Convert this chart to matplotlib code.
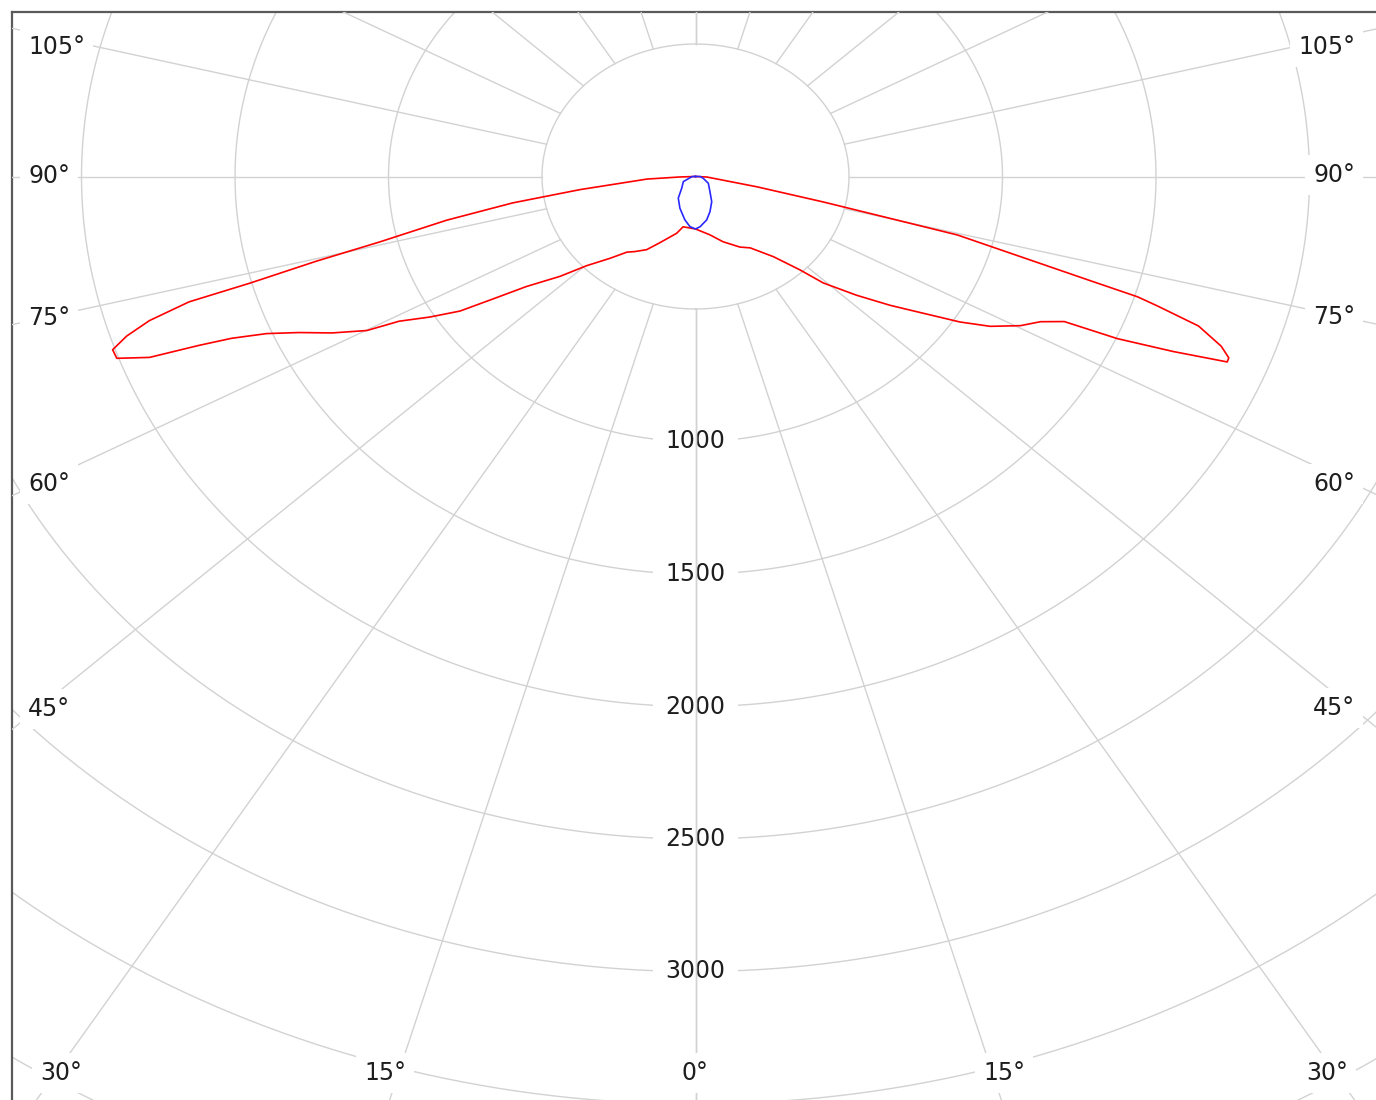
import numpy as np
import matplotlib.pyplot as plt

# luminous intensity (cd) against gamma angle (deg, 0 = straight down)
# red curve: C0 plane (right) / C180 plane (left)
c0_gamma = [0, 12, 20, 28.5, 33.5, 40, 44, 46, 49.5, 52.5, 54, 57.5, 59.5, 62, 64,
            65.5, 66, 67, 68, 68.5, 69.5, 71, 72, 72.5, 73, 74, 75.5, 76, 77, 79,
            87, 90, 180]
c0_cd = [198, 225, 262, 303, 323, 395, 490, 578, 690, 798, 854, 1022, 1114, 1199,
         1250, 1320, 1504, 1690, 1868, 1867, 1828, 1733, 1584, 1510, 1345, 1111,
         881, 654, 427, 204, 37, 0, 0]
c180_gamma = [0, 12, 16, 25, 30, 35, 38, 42, 46.5, 49.5, 53, 55, 56.5, 58.5, 60.5,
              61.5, 63.5, 65.5, 67, 68, 68.5, 69, 70, 71, 72, 73, 74, 74.5, 75.5,
              76.5, 78.5, 80.5, 82.5, 86.5, 88, 90, 180]
c180_cd = [198, 194, 223, 276, 319, 346, 362, 415, 489, 580, 690, 806, 920, 1015,
           1109, 1218, 1323, 1420, 1517, 1630, 1740, 1905, 2006, 2008, 1948, 1860,
           1716, 1507, 1274, 1058, 827, 604, 380, 158, 51, 0, 0]

# blue curve: C90 plane (right) / C270 plane (left)
c90_gamma = [0, 4.5, 12.5, 19.5, 29, 39.5, 58.5, 75, 90, 180]
c90_cd = [198, 190, 168, 141, 109, 74, 49, 26, 15, 0]
c270_gamma = [0, 5.5, 12, 23, 34.5, 45.5, 64, 76, 90, 180]
c270_cd = [198, 190, 167, 130, 99, 63, 44, 18, 10, 0]

ring_values = [500, 1000, 1500, 2000, 2500, 3000, 3500, 4000, 4500, 5000]
ring_labels = [1000, 1500, 2000, 2500, 3000]
spoke_angles = [0, 15, 30, 45, 60, 75, 90, 105, 120, 135, 150, 165, 180]

# angle labels (text, pixel x, pixel y, alignment)
angle_labels = [
    ("105°", 28, 47, "left"), ("90°", 28, 176, "left"), ("75°", 28, 318, "left"),
    ("60°", 28, 484, "left"), ("45°", 28, 709, "left"),
    ("105°", 1355, 47, "right"), ("90°", 1355, 175, "right"), ("75°", 1355, 317, "right"),
    ("60°", 1355, 484, "right"), ("45°", 1355, 708, "right"),
    ("30°", 61, 1073, "center"), ("15°", 385, 1073, "center"), ("0°", 695, 1073, "center"),
    ("15°", 1004, 1073, "center"), ("30°", 1327, 1073, "center"),
]

W, H = 1376, 1100
CX, CY = 695.5, 176.5          # pole position in pixels
PX_X, PX_Y = 0.307, 0.265      # pixels per cd, horizontal / vertical
SPOKE_X = 1.067                # spokes are drawn a bit flatter than the rings
GRID = "#d2d2d2"
TXT = "#1e1e1e"


def to_xy(gamma, cd, side):
    g = np.radians(np.asarray(gamma, dtype=float))
    cd = np.asarray(cd, dtype=float)
    return side * cd * np.sin(g), -cd * np.cos(g)


fig = plt.figure(figsize=(W / 100, H / 100), dpi=100)
fig.patch.set_facecolor("white")
ax = fig.add_axes([12 / W, 0, (W - 12) / W, (H - 12) / H])
ax.set_xlim((12 - CX) / PX_X, (W - CX) / PX_X)
ax.set_ylim(-(H - CY) / PX_Y, (CY - 12) / PX_Y)
ax.set_xticks([])
ax.set_yticks([])
for s in ["right", "bottom"]:
    ax.spines[s].set_visible(False)
for s in ["left", "top"]:
    ax.spines[s].set_color("#5a5a5a")
    ax.spines[s].set_linewidth(1.6)

# rings
t = np.linspace(0, 2 * np.pi, 721)
for r in ring_values:
    ax.plot(r * np.sin(t), -r * np.cos(t), color=GRID, lw=1, zorder=1)

# spokes, starting at the 500 ring
for a in spoke_angles:
    for side in (-1, 1):
        dx = side * np.sin(np.radians(a)) * SPOKE_X
        dy = -np.cos(np.radians(a))
        n = np.hypot(dx, dy)
        r0, r1 = ring_values[0], 9000
        ax.plot([dx / n * r0, dx / n * r1], [dy / n * r0, dy / n * r1],
                color=GRID, lw=1, zorder=3)

for v in ring_labels:
    ax.text(0, -v, str(v), ha="center", va="center", fontsize=17, color=TXT,
            zorder=2, bbox=dict(facecolor="white", edgecolor="none", pad=9))

for txt, px, py, ha in angle_labels:
    fig.text(px / W, 1 - py / H, txt, ha=ha, va="center", fontsize=17, color=TXT,
             zorder=4, bbox=dict(facecolor="white", edgecolor="none", pad=6))

# red: C180 (left, traced upward from 180 to 0) then C0 (right)
xl, yl = to_xy(c180_gamma[::-1], c180_cd[::-1], -1)
xr, yr = to_xy(c0_gamma, c0_cd, 1)
ax.plot(np.r_[xl, xr], np.r_[yl, yr], color="#ff0000", lw=1.2, zorder=5)

xl, yl = to_xy(c270_gamma[::-1], c270_cd[::-1], -1)
xr, yr = to_xy(c90_gamma, c90_cd, 1)
ax.plot(np.r_[xl, xr], np.r_[yl, yr], color="#2828ff", lw=1.2, zorder=6)

fig.savefig("out.png", dpi=100, facecolor="white")
